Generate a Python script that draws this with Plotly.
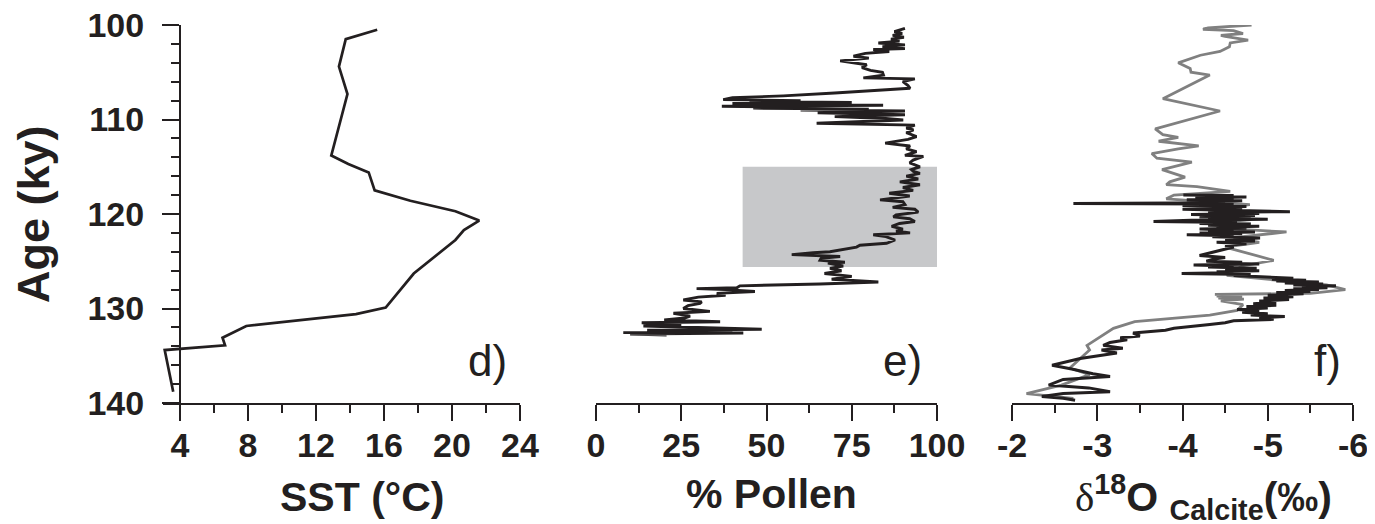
import plotly.graph_objects as go

W, H = 1375, 524
INK = '#231f20'
GREY = '#808080'
SHADE = '#c7c8ca'

# ---------------- data ----------------
sst_age = [100.5, 101.5, 104.4, 107.3, 113.8, 114.7, 115.6, 117.5, 118.6, 119.7,
           120.7, 121.7, 122.75, 126.3, 129.9, 130.6, 131.85, 133.1, 133.9, 134.4, 138.8]
sst_val = [15.6, 13.75, 13.35, 13.85, 12.9, 13.9, 15.1, 15.45, 17.55, 20.2,
           21.6, 20.7, 20.2, 17.75, 16.1, 14.35, 7.9, 6.5, 6.65, 3.1, 3.6]

pollen_age = [100.35, 100.7, 100.9, 101.1, 101.3, 101.5, 101.7, 101.9, 102.1, 102.3,
              102.5, 102.6, 102.8, 103.0, 103.3, 103.5, 103.8, 104.0, 104.2, 104.5,
              104.8, 105.0, 105.3, 105.6, 105.7, 106.0, 106.4, 106.7, 106.9, 107.2,
              107.5, 107.7, 107.9, 108.0, 108.1, 108.2, 108.3, 108.4, 108.5, 108.6,
              108.7, 108.8, 108.9, 109.0, 109.1, 109.3, 109.5, 109.7, 109.9, 110.05,
              110.4, 110.6, 110.9, 111.1, 111.4, 111.8, 112.1, 112.5, 112.8, 113.1,
              113.4, 113.8, 113.9, 114.3, 114.6, 115.0, 115.3, 115.5, 115.7, 116.0,
              116.3, 116.6, 116.9, 117.2, 117.5, 117.8, 118.1, 118.5, 118.7, 119.0,
              119.3, 119.5, 119.8, 120.1, 120.3, 120.5, 120.8, 121.0, 121.3, 121.6,
              121.8, 122.0, 122.2, 122.4, 122.75, 123.1, 123.3, 123.5, 123.8, 124.0,
              124.1, 124.3, 124.5, 124.7, 124.9, 125.1, 125.2, 125.5, 125.75, 126.0,
              126.3, 126.6, 126.9, 127.2, 127.4, 127.6, 127.8, 127.9, 128.0, 128.2,
              128.4, 128.6, 128.8, 129.1, 129.3, 129.45, 129.7, 130.0, 130.3, 130.5,
              130.8, 131.0, 131.2, 131.4, 131.5, 131.7, 131.85, 132.0, 132.2, 132.3,
              132.45, 132.55, 132.6, 132.7, 132.8]
pollen_val = [90.6, 87.5, 89.8, 87.0, 90.3, 86.5, 89.0, 82.8, 90.6, 84.0,
              90.6, 81.3, 86.0, 79.0, 75.5, 80.0, 71.6, 76.0, 79.4, 78.0,
              80.5, 84.0, 84.3, 78.4, 93.5, 90.0, 91.5, 92.1, 84.2, 70.0,
              54.9, 40.0, 37.3, 60.0, 45.0, 75.0, 40.0, 70.0, 84.2, 36.9,
              55.0, 46.1, 80.0, 60.0, 90.6, 65.0, 90.6, 70.0, 85.0, 90.1,
              64.7, 93.5, 91.0, 93.1, 91.0, 94.0, 91.5, 84.8, 92.1, 91.0,
              94.0, 90.6, 96.0, 93.0, 92.0, 95.0, 92.5, 93.1, 95.0, 91.0,
              94.5, 89.1, 95.0, 90.0, 93.0, 86.0, 92.0, 83.3, 90.0, 90.6,
              87.0, 93.5, 94.5, 88.0, 87.2, 92.0, 93.5, 89.0, 86.7, 90.0,
              88.0, 92.1, 81.3, 85.0, 87.7, 85.2, 77.4, 76.4, 71.1, 68.6,
              63.7, 57.4, 71.6, 66.0, 65.7, 73.0, 68.0, 72.5, 68.6, 72.0,
              67.0, 75.0, 69.1, 82.8, 65.7, 42.2, 41.3, 29.5, 38.0, 46.6,
              35.4, 38.0, 30.0, 25.6, 31.0, 30.5, 27.0, 25.6, 33.4, 22.7,
              27.6, 26.0, 20.0, 36.4, 13.4, 25.0, 13.9, 30.0, 48.6, 15.0,
              40.0, 8.0, 43.2, 10.0, 20.7]

d18o_grey_age = [100.0, 100.3, 100.45, 100.6, 100.9, 101.1, 101.2, 101.6, 101.9, 102.3,
                 102.8, 103.2, 104.0, 104.6, 105.0, 105.3, 107.8, 109.1, 111.0, 111.6,
                 111.9, 112.3, 112.8, 113.1, 113.6, 114.1, 114.5, 115.3, 116.1, 116.6,
                 116.9, 117.1, 117.6, 118.0, 118.4, 119.0, 119.5, 120.0, 120.5, 121.0,
                 121.5, 121.9, 122.5, 123.0, 123.5, 124.2, 124.9, 125.5, 126.0, 126.5,
                 127.0, 127.5, 128.0, 128.4, 128.5, 128.6, 128.7, 128.8, 128.9, 129.0,
                 129.2, 129.6, 130.2, 130.7, 131.4, 132.1, 133.9, 134.4, 136.3, 137.0,
                 138.1, 139.0, 139.5]
d18o_grey_val = [-4.81, -4.30, -4.24, -4.60, -4.71, -4.45, -4.50, -4.77, -4.56, -4.55,
                 -4.44, -4.21, -3.95, -4.09, -4.10, -4.32, -3.77, -4.44, -3.68, -3.77,
                 -3.95, -3.72, -4.19, -3.95, -3.64, -3.70, -4.11, -3.76, -4.03, -3.85,
                 -3.81, -4.17, -4.56, -3.90, -3.81, -4.79, -4.30, -4.60, -4.20, -4.80,
                 -4.40, -5.22, -4.60, -4.90, -4.50, -4.79, -5.07, -4.70, -4.60, -4.52,
                 -5.10, -5.69, -5.91, -5.50, -4.38, -4.70, -4.40, -4.70, -4.42, -4.72,
                 -4.45, -4.71, -4.64, -4.32, -3.44, -3.19, -2.88, -2.91, -2.68, -2.91,
                 -2.58, -2.17, -2.72]

d18o_black_age = [118.0, 118.05, 118.1, 118.2, 118.3, 118.4, 118.5, 118.6, 118.7, 118.8,
                  118.9, 118.95, 119.0, 119.1, 119.2, 119.3, 119.4, 119.5, 119.6, 119.75,
                  119.85, 119.95, 120.05, 120.15, 120.25, 120.35, 120.45, 120.55, 120.65, 120.8,
                  120.9, 121.0, 121.1, 121.2, 121.3, 121.4, 121.5, 121.6, 121.7, 121.8,
                  121.9, 122.0, 122.1, 122.2, 122.3, 122.4, 122.55, 122.7, 122.85, 123.0,
                  123.15, 123.3, 123.5, 124.2, 124.4, 124.6, 124.8, 125.0, 125.1, 125.2,
                  125.3, 125.4, 125.5, 125.6, 125.75, 125.9, 126.0, 126.1, 126.2, 126.3,
                  126.4, 126.5, 126.65, 126.8, 126.9, 127.0, 127.1, 127.2, 127.3, 127.4,
                  127.5, 127.6, 127.7, 127.8, 127.9, 128.0, 128.1, 128.2, 128.3, 128.45,
                  128.6, 128.75, 128.9, 129.05, 129.2, 129.35, 129.5, 129.65, 129.8, 129.95,
                  130.1, 130.25, 130.4, 130.55, 130.7, 130.85, 131.0, 131.15, 131.3, 131.5,
                  131.7, 131.9, 132.1, 132.3, 132.6, 132.9, 133.1, 133.3, 133.6, 133.9,
                  134.2, 134.4, 134.7, 135.3, 136.0, 136.4, 136.9, 137.2, 137.5, 138.1,
                  138.4, 138.8, 139.0, 139.3, 139.5, 139.7]
d18o_black_val = [-4.01, -4.60, -4.30, -4.75, -4.15, -4.60, -4.05, -4.70, -4.10, -4.50,
                  -2.72, -4.30, -4.60, -4.00, -4.75, -4.20, -4.70, -4.00, -4.50, -5.26,
                  -4.30, -4.90, -4.10, -4.85, -4.20, -4.80, -4.30, -5.00, -4.10, -3.66,
                  -4.64, -4.20, -4.80, -4.30, -4.90, -4.40, -4.75, -4.20, -4.60, -4.30,
                  -4.85, -4.20, -4.70, -4.05, -4.60, -4.35, -4.91, -4.50, -4.85, -4.40,
                  -4.75, -4.50, -4.60, -4.28, -4.20, -4.50, -4.35, -4.28, -4.70, -4.40,
                  -4.90, -4.13, -4.60, -4.30, -4.87, -4.50, -4.90, -4.40, -4.70, -3.99,
                  -4.80, -4.60, -5.00, -5.30, -5.05, -5.45, -5.10, -5.60, -5.20, -5.65,
                  -5.30, -5.80, -5.40, -5.70, -5.30, -5.60, -5.20, -5.50, -5.10, -5.42,
                  -5.00, -5.30, -4.95, -5.25, -4.90, -5.10, -4.83, -5.10, -4.75, -5.00,
                  -4.64, -4.90, -4.70, -5.00, -4.80, -5.20, -4.90, -5.07, -4.60, -4.50,
                  -4.32, -4.10, -3.90, -3.80, -3.42, -3.50, -3.27, -3.35, -3.15, -3.07,
                  -3.30, -3.05, -3.23, -2.80, -2.47, -2.70, -2.95, -3.15, -2.60, -2.43,
                  -2.90, -3.15, -2.60, -2.35, -2.60, -2.74]

shade_age = [115.0, 125.6]
shade_pollen = [43.0, 100.0]

age_range = [140, 100]
sst_range = [3, 24]
pollen_range = [0, 100]
d18o_range = [-2, -6]
d18o_tickvals = [-2, -3, -4, -5, -6]
d18o_ticktext = ['-2', '-3', '-4', '-5', '-6']
d18o_minorvals = [-2.5, -3.5, -4.5, -5.5]

# ---------------- layout geometry (paper fractions) ----------------
OFF = 8  # page body margin offset in the browser


def px_x(p):
    return (p - OFF) / W


def px_y(p):
    return 1 - (p - OFF) / H


y_dom = [px_y(403), px_y(25)]
dom_d = [px_x(163), px_x(520)]
dom_e = [px_x(596), px_x(937)]
dom_f = [px_x(1012), px_x(1353)]

TICKFONT = dict(family='Liberation Sans', size=34, color=INK, weight='bold')

fig = go.Figure()

fig.add_trace(go.Scatter(x=sst_val, y=sst_age, mode='lines', xaxis='x', yaxis='y',
                         line=dict(color=INK, width=2.7), showlegend=False))
fig.add_trace(go.Scatter(x=pollen_val, y=pollen_age, mode='lines', xaxis='x2', yaxis='y',
                         line=dict(color=INK, width=2.9), showlegend=False))
fig.add_trace(go.Scatter(x=d18o_grey_val, y=d18o_grey_age, mode='lines', xaxis='x3', yaxis='y',
                         line=dict(color=GREY, width=2.8), showlegend=False))
fig.add_trace(go.Scatter(x=d18o_black_val, y=d18o_black_age, mode='lines', xaxis='x3', yaxis='y',
                         line=dict(color=INK, width=3), showlegend=False))

fig.add_shape(type='rect', xref='x2', yref='y', x0=shade_pollen[0], x1=shade_pollen[1],
              y0=shade_age[0], y1=shade_age[1], fillcolor=SHADE, line=dict(width=0), layer='below')


def xax(domain, rng, side_ticks, labels, **kw):
    d = dict(range=rng, anchor='y', showgrid=False, zeroline=False,
             ticks=side_ticks, ticklen=16, tickwidth=2, tickcolor=INK,
             showticklabels=labels, tickfont=TICKFONT, fixedrange=True, automargin=False,
             ticklabeloverflow='allow')
    if domain is not None:
        d['domain'] = domain
    d.update(kw)
    return d


common_line = dict(showline=True, linecolor=INK, linewidth=2)

fig.update_layout(
    width=W, height=H, margin=dict(l=0, r=0, t=0, b=0, pad=0, autoexpand=False),
    paper_bgcolor='white', plot_bgcolor='white', showlegend=False,
    yaxis=dict(domain=y_dom, range=age_range, anchor='free', position=px_x(180),
               showgrid=False, zeroline=False, dtick=10, tick0=100, automargin=False,
               ticks='outside', ticklen=17, tickwidth=2, tickcolor=INK,
               minor=dict(dtick=2, ticks='outside', ticklen=8, tickwidth=2, tickcolor=INK),
               tickfont=TICKFONT, ticklabelstandoff=11, ticklabeloverflow='allow',
               showline=True, linecolor=INK, linewidth=2),
    yaxis2=dict(overlaying='y', range=age_range, anchor='free', position=px_x(180),
                showgrid=False, zeroline=False, dtick=10, tick0=100, automargin=False,
                ticks='inside', ticklen=17, tickwidth=2, tickcolor=INK,
                minor=dict(dtick=2, ticks='inside', ticklen=8, tickwidth=2, tickcolor=INK),
                showticklabels=False, showline=False),
    xaxis=xax(dom_d, sst_range, 'outside', True, dtick=4, tick0=0,
              minor=dict(dtick=2, ticks='outside', ticklen=8, tickwidth=2, tickcolor=INK),
              ticklabelstandoff=-5, **common_line),
    xaxis4=xax(None, sst_range, 'inside', False, overlaying='x', dtick=4, tick0=0,
               minor=dict(dtick=2, ticks='inside', ticklen=8, tickwidth=2, tickcolor=INK)),
    xaxis2=xax(dom_e, pollen_range, 'outside', True, dtick=25, tick0=0,
               minor=dict(dtick=12.5, ticks='outside', ticklen=8, tickwidth=2, tickcolor=INK),
               ticklabelstandoff=-5, **common_line),
    xaxis5=xax(None, pollen_range, 'inside', False, overlaying='x2', dtick=25, tick0=0,
               minor=dict(dtick=12.5, ticks='inside', ticklen=8, tickwidth=2, tickcolor=INK)),
    xaxis3=xax(dom_f, d18o_range, 'outside', True, tickmode='array', tickvals=d18o_tickvals,
               ticktext=d18o_ticktext,
               minor=dict(tickmode='array', tickvals=d18o_minorvals, ticks='outside', ticklen=8,
                          tickwidth=2, tickcolor=INK),
               ticklabelstandoff=-5, **common_line),
    xaxis6=xax(None, d18o_range, 'inside', False, overlaying='x3', tickmode='array',
               tickvals=d18o_tickvals,
               minor=dict(tickmode='array', tickvals=d18o_minorvals, ticks='inside', ticklen=8,
                          tickwidth=2, tickcolor=INK)),
)

TITLEFONT = dict(family='Liberation Sans', size=41, color=INK, weight='bold')
PANELFONT = dict(family='Liberation Sans', size=44, color=INK)

ann = [
    dict(text='Age (ky)', x=px_x(33), y=px_y(214), textangle=-90, font=dict(TITLEFONT, size=45)),
    dict(text='SST (°C)', x=px_x(362), y=px_y(497), font=TITLEFONT),
    dict(text='% Pollen', x=px_x(771), y=px_y(494), font=TITLEFONT),
    dict(text='<span style="font-family:\'Liberation Serif\';font-weight:normal">δ</span>'
              '<sup>18</sup>O <sub>Calcite</sub>(‰)',
         x=px_x(1203), y=px_y(497), font=TITLEFONT),
    dict(text='d)', x=px_x(487), y=px_y(360), font=PANELFONT),
    dict(text='e)', x=px_x(902), y=px_y(360), font=PANELFONT),
    dict(text='f)', x=px_x(1327), y=px_y(360), font=PANELFONT),
]
for a in ann:
    a.update(xref='paper', yref='paper', showarrow=False, xanchor='center', yanchor='middle')
    fig.add_annotation(**a)

fig.write_html('out.html')
